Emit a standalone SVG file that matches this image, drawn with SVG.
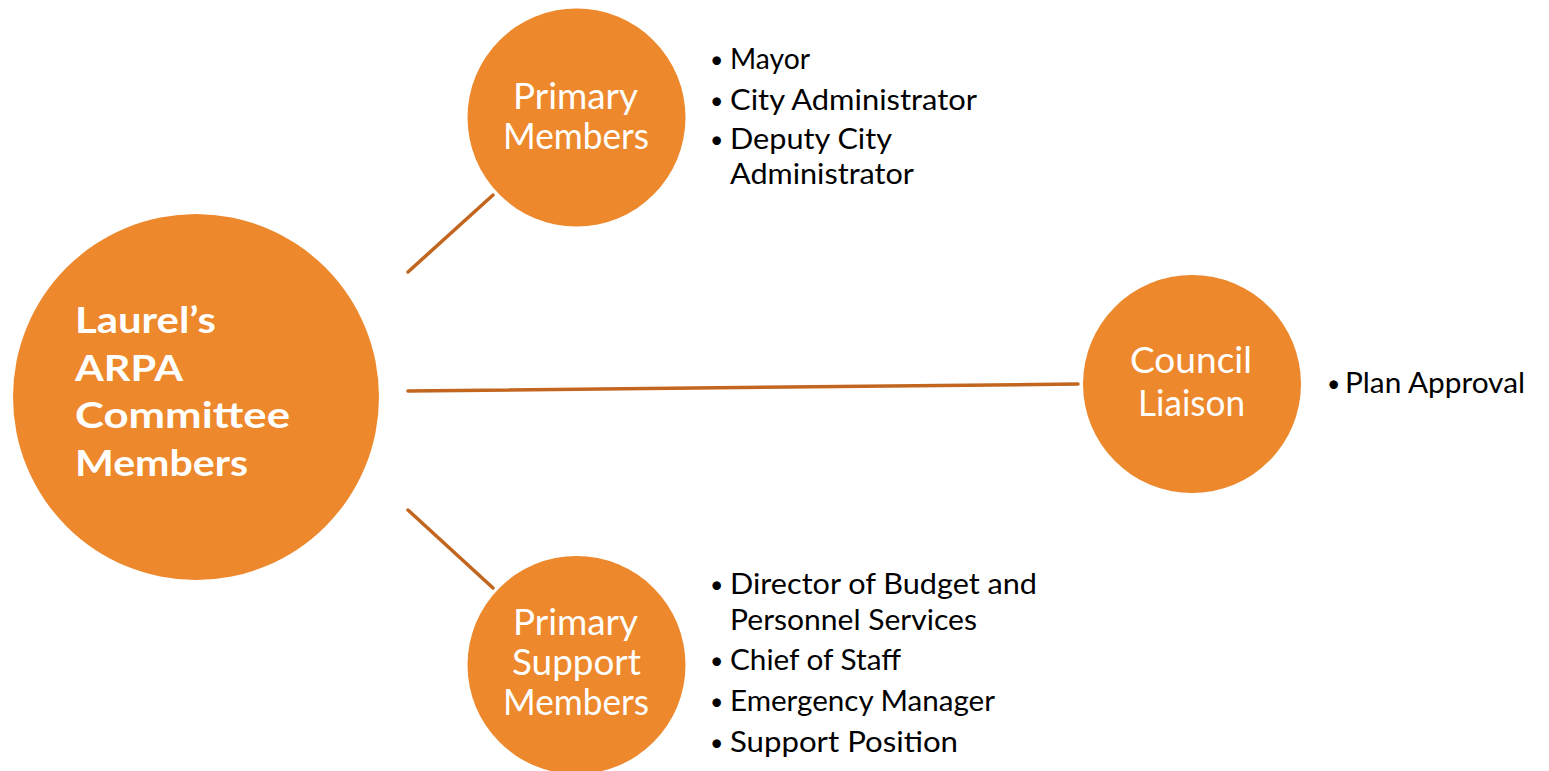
<svg xmlns="http://www.w3.org/2000/svg" width="1549" height="771" viewBox="0 0 1549 771">
<style>
.node{fill:#ED882C}
.lbl{font-family:Lato,"Open Sans","Liberation Sans",sans-serif;fill:#FFFFFF;font-size:36px}
.ctr{font-family:Lato,"Open Sans","Liberation Sans",sans-serif;fill:#FFFFFF;font-size:37px;font-weight:bold}
.bul{font-family:Lato,"Open Sans","Liberation Sans",sans-serif;fill:#000000;font-size:28px}
.dot{font-family:Lato,"Open Sans","Liberation Sans",sans-serif;fill:#000000;font-size:23px}
.conn{stroke:#C2661F;stroke-width:3.5;stroke-linecap:round;fill:none}
</style>
<rect width="1549" height="771" fill="#FFFFFF"/>
<g id="connectors">
<line class="conn" x1="408" y1="272" x2="493" y2="195"/>
<line class="conn" x1="408" y1="391" x2="1078" y2="384"/>
<line class="conn" x1="408" y1="510" x2="493" y2="588"/>
</g>
<g id="center">
<circle class="node" cx="196" cy="397" r="183"/>
<text class="ctr" x="75" y="333" textLength="141" lengthAdjust="spacingAndGlyphs">Laurel’s</text>
<text class="ctr" x="75" y="381" textLength="108" lengthAdjust="spacingAndGlyphs">ARPA</text>
<text class="ctr" x="75" y="428" textLength="215" lengthAdjust="spacingAndGlyphs">Committee</text>
<text class="ctr" x="75" y="476" textLength="173" lengthAdjust="spacingAndGlyphs">Members</text>
</g>
<g id="primary-members">
<circle class="node" cx="576.5" cy="117.5" r="109"/>
<text class="lbl" x="513" y="109" textLength="125" lengthAdjust="spacingAndGlyphs">Primary</text>
<text class="lbl" x="503" y="149" textLength="146" lengthAdjust="spacingAndGlyphs">Members</text>
</g>
<g id="primary-members-list">
<text class="dot" x="710" y="68">•</text>
<text class="bul" x="730" y="69" textLength="80" lengthAdjust="spacingAndGlyphs">Mayor</text>
<text class="dot" x="710" y="109">•</text>
<text class="bul" x="730" y="110" textLength="247" lengthAdjust="spacingAndGlyphs">City Administrator</text>
<text class="dot" x="710" y="148">•</text>
<text class="bul" x="730" y="149" textLength="162" lengthAdjust="spacingAndGlyphs">Deputy City</text>
<text class="bul" x="730" y="184" textLength="184" lengthAdjust="spacingAndGlyphs">Administrator</text>
</g>
<g id="council-liaison">
<circle class="node" cx="1192" cy="384" r="109"/>
<text class="lbl" x="1130" y="373" textLength="122" lengthAdjust="spacingAndGlyphs">Council</text>
<text class="lbl" x="1138" y="416" textLength="107" lengthAdjust="spacingAndGlyphs">Liaison</text>
</g>
<g id="council-liaison-list">
<text class="dot" x="1327" y="392">•</text>
<text class="bul" x="1345" y="393" textLength="180" lengthAdjust="spacingAndGlyphs">Plan Approval</text>
</g>
<g id="primary-support-members">
<circle class="node" cx="576.5" cy="665" r="109"/>
<text class="lbl" x="513" y="635" textLength="125" lengthAdjust="spacingAndGlyphs">Primary</text>
<text class="lbl" x="512" y="675" textLength="129" lengthAdjust="spacingAndGlyphs">Support</text>
<text class="lbl" x="503" y="715" textLength="146" lengthAdjust="spacingAndGlyphs">Members</text>
</g>
<g id="primary-support-members-list">
<text class="dot" x="710" y="593">•</text>
<text class="bul" x="730" y="594" textLength="307" lengthAdjust="spacingAndGlyphs">Director of Budget and</text>
<text class="bul" x="730" y="630" textLength="247" lengthAdjust="spacingAndGlyphs">Personnel Services</text>
<text class="dot" x="710" y="669">•</text>
<text class="bul" x="730" y="670" textLength="171" lengthAdjust="spacingAndGlyphs">Chief of Staff</text>
<text class="dot" x="710" y="710">•</text>
<text class="bul" x="730" y="711" textLength="265" lengthAdjust="spacingAndGlyphs">Emergency Manager</text>
<text class="dot" x="710" y="751">•</text>
<text class="bul" x="730" y="752" textLength="228" lengthAdjust="spacingAndGlyphs">Support Position</text>
</g>
</svg>
